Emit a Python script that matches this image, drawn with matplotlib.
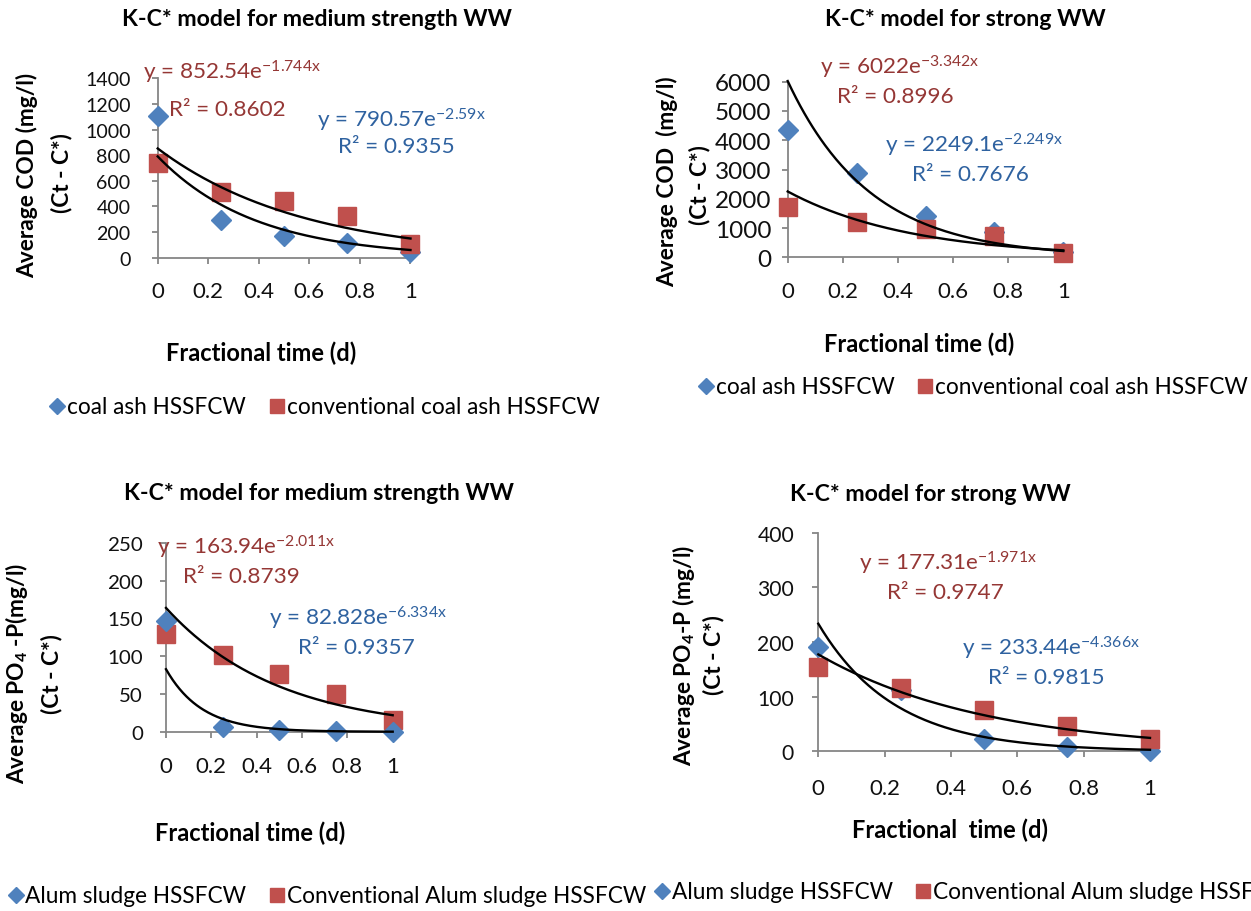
import numpy as np
import matplotlib
matplotlib.use('Agg')
import matplotlib.pyplot as plt
from matplotlib.lines import Line2D
from matplotlib.ticker import FuncFormatter

plt.rcParams['font.family'] = ['Lato', 'DejaVu Sans']
plt.rcParams['mathtext.fontset'] = 'custom'
plt.rcParams['mathtext.rm'] = 'Lato'
plt.rcParams['mathtext.it'] = 'Lato:italic'
plt.rcParams['mathtext.bf'] = 'Lato:bold'

# data
frac_time = [0, 0.25, 0.5, 0.75, 1]

cod_med_coal = [1103, 296, 171, 114, 46]
cod_med_conv = [739, 515, 445, 327, 106]
cod_str_coal = [4360, 2880, 1420, 850, 180]
cod_str_conv = [1708, 1217, 967, 738, 147]
po4_med_alum = [147, 7, 3, 1.5, 0]
po4_med_conv = [130, 102, 76.5, 50, 15.6]
po4_str_alum = [191, 112, 22.7, 7.5, 1]
po4_str_conv = [154, 116, 76, 46, 23]

# exponential trendlines (a, b, R2) as printed on the chart
# first = red label, second = blue label
fit_cod_med = [(852.54, -1.744, 0.8602), (790.57, -2.59, 0.9355)]
fit_cod_str = [(6022, -3.342, 0.8996), (2249.1, -2.249, 0.7676)]
fit_po4_med = [(163.94, -2.011, 0.8739), (82.828, -6.334, 0.9357)]
fit_po4_str = [(177.31, -1.971, 0.9747), (233.44, -4.366, 0.9815)]

titles = ['K-C* model for medium strength WW', 'K-C* model for strong WW',
          'K-C* model for medium strength WW', 'K-C* model for strong WW']
xlabels = ['Fractional time (d)', 'Fractional time (d)',
           'Fractional time (d)', 'Fractional  time (d)']
ylabels = ['Average COD (mg/l)', 'Average COD  (mg/l)',
           r'Average PO$_\mathbf{4}$ -P(mg/l)', r'Average PO$_\mathbf{4}$-P (mg/l)']
legend_cod = ['coal ash HSSFCW', 'conventional coal ash HSSFCW']
legend_po4 = ['Alum sludge HSSFCW', 'Conventional Alum sludge HSSFCW']

BLUE = '#4F81BD'
RED = '#C0504D'
BLUE_TXT = '#2F62A0'
RED_TXT = '#953735'
AXIS = '#868686'

W, H = 1251, 912
fig = plt.figure(figsize=(W / 100, H / 100), dpi=100)
renderer = fig.canvas.get_renderer()


def fit(s, target, weight='normal'):
    # font size that makes string s about target pixels wide
    t = fig.text(0, 0, s, fontsize=10, fontweight=weight)
    w = t.get_window_extent(renderer).width
    t.remove()
    return 10 * target / w


def put(x, y, s, **kw):
    return fig.text(x / W, 1 - y / H, s, **kw)


title_fs = fit(titles[0], 392, 'bold')
xlab_fs = fit(xlabels[0], 191, 'bold')
ylab_fs = fit(ylabels[0], 206, 'bold')
ann_fs = fit('R\u00b2 = 0.8602', 116)
leg_fs = fit(legend_cod[1], 312)
xtick_fs = fit('0.2', 31)


def eq(a, b):
    return 'y = %se' % f'{a:g}' + r'$^{\mathregular{%sx}}$' % f'{b:g}'


def panel(px, ymax, ystep, ytick_w, ypad, xpad, blue, red, fits, blue_top=False):
    x0, x1, ytop, ybot = px
    ax = fig.add_axes([x0 / W, 1 - ybot / H, (x1 - x0) / W, (ybot - ytop) / H])
    zb, zr = (4, 3) if blue_top else (3, 4)
    ax.plot(frac_time, blue, ls='none', marker='D', ms=10, color=BLUE, clip_on=False, zorder=zb)
    ax.plot(frac_time, red, ls='none', marker='s', ms=13, color=RED, clip_on=False, zorder=zr)
    xs = np.linspace(0, 1, 200)
    for a, b, r2 in fits:
        ax.plot(xs, a * np.exp(b * xs), color='black', lw=1.7, zorder=5, clip_on=False)
    ax.set_xlim(0, 1)
    ax.set_ylim(0, ymax)
    ax.set_xticks([0, 0.2, 0.4, 0.6, 0.8, 1])
    ax.set_yticks(np.arange(0, ymax + 1, ystep))
    ax.xaxis.set_major_formatter(FuncFormatter(lambda v, p: f'{v:g}'))
    for s in ['top', 'right']:
        ax.spines[s].set_visible(False)
    for s in ['left', 'bottom']:
        ax.spines[s].set_color(AXIS)
        ax.spines[s].set_linewidth(1.3)
    ax.tick_params(direction='out', length=4.5, width=1.3, color=AXIS, labelcolor='#111111')
    ax.tick_params(axis='x', labelsize=xtick_fs, pad=xpad * 0.72)
    ax.tick_params(axis='y', labelsize=fit(str(ymax), ytick_w), pad=ypad * 0.72)
    ax.patch.set_alpha(0)
    return ax


def labels(i, tpos, xpos, ypos1, ypos2, ann, fits):
    put(*tpos, titles[i], fontsize=title_fs, fontweight='bold', ha='center', va='center')
    put(*xpos, xlabels[i], fontsize=xlab_fs, fontweight='bold', ha='center', va='center')
    put(*ypos1, ylabels[i], fontsize=ylab_fs, fontweight='bold', rotation=90, ha='center', va='center')
    put(*ypos2, '(Ct - C*)', fontsize=ylab_fs, fontweight='bold', rotation=90, ha='center', va='center')
    cols = [RED_TXT, BLUE_TXT]
    for (a, b, r2), (ex, ey, rx, ry), c in zip(fits, ann, cols):
        put(ex, ey, eq(a, b), fontsize=ann_fs, color=c, ha='left', va='center')
        put(rx, ry, 'R\u00b2 = %.4f' % r2, fontsize=ann_fs, color=c, ha='left', va='center')


def legend(labs, xc, y):
    hl = 0.6
    handles = [Line2D([], [], ls='none', marker='D', ms=8.5, color=BLUE),
               Line2D([], [], ls='none', marker='s', ms=10, color=RED)]
    left = xc - hl * leg_fs * 100 / 72 / 2
    fig.legend(handles, labs, loc='center left', bbox_to_anchor=(left / W, 1 - y / H),
               ncol=2, frameon=False, fontsize=leg_fs, handlelength=hl, handletextpad=0.14,
               columnspacing=1.05, borderpad=0, borderaxespad=0, numpoints=1)


# top left: COD medium strength
panel((157.7, 410.5, 79.4, 258.6), 1400, 200, 45.7, 21, 17, cod_med_coal, cod_med_conv, fit_cod_med)
labels(0, (317, 19), (261.5, 353), (26.7, 175), (61.7, 173),
       [(143, 72, 169, 110), (317, 120, 338, 147)], fit_cod_med)
legend(legend_cod, 57.5, 408)

# top right: COD strong
panel((787.7, 1063.3, 82.7, 258.3), 6000, 1000, 56, 10, 17, cod_str_coal, cod_str_conv, fit_cod_str)
labels(1, (965, 20), (919, 344), (666.7, 181.7), (700, 185),
       [(820, 67, 837, 97), (885, 145, 912, 175)], fit_cod_str)
legend(legend_cod, 706, 388)

# bottom left: PO4 medium strength
panel((166, 392.7, 543.9, 732.8), 250, 50, 35.7, 17, 18, po4_med_alum, po4_med_conv, fit_po4_med, blue_top=True)
labels(2, (319, 493), (250, 833), (16.7, 673), (51.7, 674),
       [(157, 547, 183, 577), (269, 618, 298, 648)], fit_po4_med)
legend(legend_po4, 15.5, 897)

# bottom right: PO4 strong
panel((818.3, 1150, 533.6, 752.4), 400, 100, 36.7, 18, 20, po4_str_alum, po4_str_conv, fit_po4_str)
labels(3, (930, 495), (949.5, 830), (683.3, 655), (713.3, 655),
       [(859, 563, 887, 593), (962, 648, 988, 678)], fit_po4_str)
legend(legend_po4, 662, 893)

fig.savefig('out.png', dpi=100, facecolor='white')
